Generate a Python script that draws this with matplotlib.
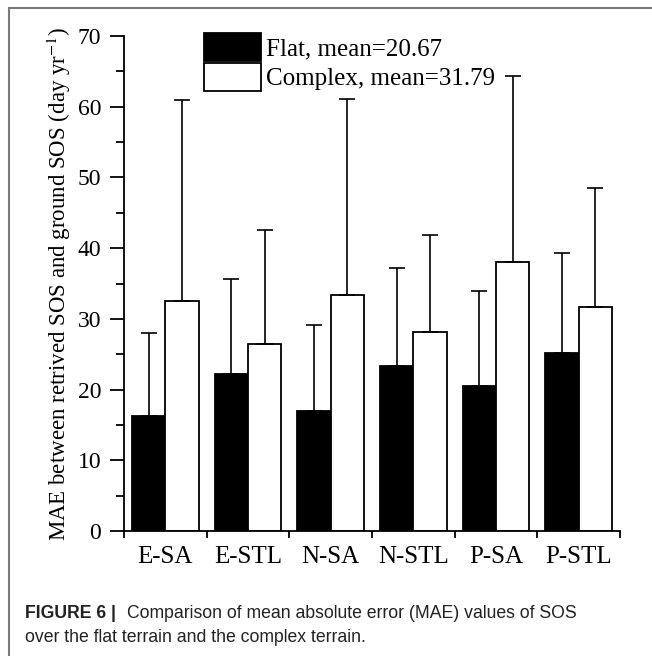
import numpy as np
import matplotlib
matplotlib.use('Agg')
import matplotlib.pyplot as plt
from matplotlib.patches import Patch, Rectangle

# data
groups = ['E-SA', 'E-STL', 'N-SA', 'N-STL', 'P-SA', 'P-STL']
flat_mae = [16.3, 22.2, 16.9, 23.3, 20.5, 25.2]
flat_top = [28.0, 35.6, 29.1, 37.2, 33.9, 39.3]      # upper end of error bar
complex_mae = [32.5, 26.4, 33.4, 28.2, 38.1, 31.7]
complex_top = [61.0, 42.5, 61.1, 41.8, 64.4, 48.5]
legend_labels = ['Flat, mean=20.67', 'Complex, mean=31.79']

flat_err = np.array(flat_top) - np.array(flat_mae)
complex_err = np.array(complex_top) - np.array(complex_mae)

plt.rcParams['font.family'] = 'Liberation Serif'
plt.rcParams['mathtext.fontset'] = 'stix'

W, H = 652, 656
fig = plt.figure(figsize=(W / 100, H / 100), dpi=100)
ax = fig.add_axes([124 / W, 1 - 531 / H, (620 - 124) / W, (531 - 36) / H])

x = np.arange(len(groups)) + 0.5
w = 0.405
ekw = dict(ecolor='k', elinewidth=1.2, capsize=5.5, capthick=1.2)
ax.bar(x - w / 2, flat_mae, w, color='k', edgecolor='k', linewidth=1.3,
       yerr=[np.zeros(6), flat_err], error_kw=ekw, zorder=2)
ax.bar(x + w / 2, complex_mae, w, color='white', edgecolor='k', linewidth=1.3,
       yerr=[np.zeros(6), complex_err], error_kw=ekw, zorder=2)

ax.set_xlim(0, 6)
ax.set_ylim(0, 70)
ax.spines['top'].set_visible(False)
ax.spines['right'].set_visible(False)
ax.spines['left'].set_linewidth(1.3)
ax.spines['bottom'].set_linewidth(1.3)

ax.set_xticks(np.arange(0, 7))
ax.set_xticklabels([])
ax.set_xticks(x, minor=True)
ax.set_xticklabels(groups, minor=True)
ax.tick_params(axis='x', which='major', direction='out', length=5, width=1.3)
ax.tick_params(axis='x', which='minor', length=0, pad=11, labelsize=18)

ax.set_yticks(np.arange(0, 71, 10))
ax.set_yticks(np.arange(5, 70, 10), minor=True)
ax.tick_params(axis='y', which='major', direction='out', length=10, width=1.3, labelsize=17, pad=6.5)
ax.tick_params(axis='y', which='minor', direction='out', length=6, width=1.3)

ax.set_ylabel('MAE between retrived SOS and ground SOS (day yr$^{-1}$)', fontsize=16.5, labelpad=3.5)

handles = [Patch(facecolor='k', edgecolor='k', linewidth=1.3),
           Patch(facecolor='white', edgecolor='k', linewidth=1.3)]
fig.legend(handles, legend_labels, loc='upper left', bbox_to_anchor=(204 / W, 1 - 33 / H),
           frameon=False, fontsize=18, handlelength=2.27, handleheight=1.32,
           handletextpad=0.22, labelspacing=0.1, borderpad=0, borderaxespad=0)

# panel frame (only left and top edges are visible in the crop)
fig.add_artist(Rectangle((9 / W, -0.1), 1.2, 1.1 - 8 / H, transform=fig.transFigure,
                         fill=False, edgecolor='#7a7a7a', linewidth=1.5))

cap_font = 'Liberation Sans'
fig.text(25 / W, 1 - 618 / H, 'FIGURE 6 |', fontsize=12.7, fontweight='bold',
         family=cap_font, color='#222222', va='baseline')
fig.text(127 / W, 1 - 618 / H, 'Comparison of mean absolute error (MAE) values of SOS',
         fontsize=12.7, family=cap_font, color='#222222', va='baseline')
fig.text(25 / W, 1 - 642 / H, 'over the flat terrain and the complex terrain.',
         fontsize=12.7, family=cap_font, color='#222222', va='baseline')

fig.savefig('out.png', dpi=100)
